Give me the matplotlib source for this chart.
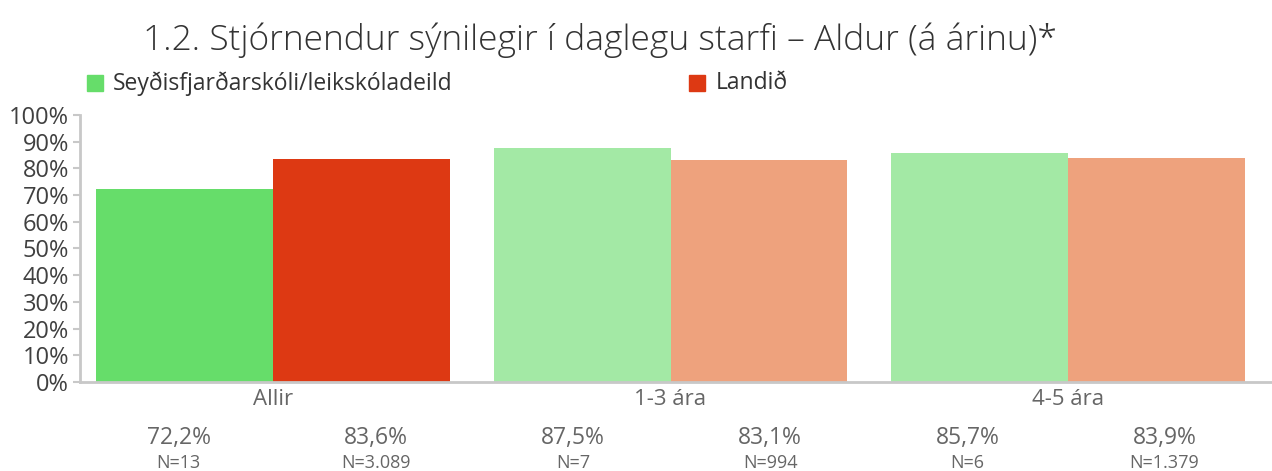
import numpy as np
import matplotlib
matplotlib.use("Agg")
from matplotlib import pyplot as plt

categories = ['Allir', '1-3 ára', '4-5 ára']
school = [72.2, 87.5, 85.7]
country = [83.6, 83.1, 83.9]
schoolN = ['N=13', 'N=7', 'N=6']
countryN = ['N=3.089', 'N=994', 'N=1.379']
seriesNames = ['Seyðisfjarðarskóli/leikskóladeild', 'Landið']

schoolColors = ['#66dd6a', '#a3e9a5', '#a3e9a5']
countryColors = ['#dd3913', '#eea27d', '#eea27d']

plt.rcParams['font.family'] = ['Open Sans', 'DejaVu Sans']

fig = plt.figure(figsize=(12.72, 4.71), dpi=100)
ax = fig.add_axes([0.063, 0.189, 0.937, 0.567])

x = np.arange(len(categories))
width = 0.445
ax.bar(x - width / 2, school, width, color=schoolColors)
ax.bar(x + width / 2, country, width, color=countryColors)

ax.set_xlim(-0.486, 2.514)
ax.set_ylim(0, 100)
ax.set_yticks(np.arange(0, 101, 10))
ax.set_yticklabels([str(v) + '%' for v in range(0, 101, 10)])
ax.tick_params(axis='y', labelsize=17, colors='#c8c8c8', labelcolor='#404040',
               length=5, width=1.5, pad=3)
ax.tick_params(axis='x', length=0, labelsize=16, labelcolor='#666666', pad=5)
ax.set_xticks(x)
ax.set_xticklabels(categories)

for side in ['top', 'right']:
    ax.spines[side].set_visible(False)
for side in ['left', 'bottom']:
    ax.spines[side].set_color('#c8c8c8')
    ax.spines[side].set_linewidth(2)

# value row under the chart, six even columns
values = []
counts = []
for i in range(len(categories)):
    values += [school[i], country[i]]
    counts += [schoolN[i], countryN[i]]
for j in range(len(values)):
    cx = (j + 0.5) / len(values) * 0.9925
    label = ('%.1f' % values[j]).replace('.', ',') + '%'
    ax.text(cx, -0.21, label, transform=ax.transAxes, ha='center',
            va='center', fontsize=16.5, color='#666666')
    ax.text(cx, -0.305, counts[j], transform=ax.transAxes, ha='center',
            va='center', fontsize=13, color='#666666')

fig.text(0.472, 0.915, '1.2. Stjórnendur sýnilegir í daglegu starfi – Aldur (á árinu)*',
         ha='center', va='center', fontsize=25.5, color='#333333', fontweight='light')

fig.text(0.0885, 0.823, seriesNames[0], ha='left', va='center', fontsize=16.5, color='#333333')
fig.text(0.563, 0.823, seriesNames[1], ha='left', va='center', fontsize=16.5, color='#333333')
fig.patches.append(plt.Rectangle((0.0685, 0.806), 0.0125, 0.034, color=schoolColors[0],
                                 transform=fig.transFigure, figure=fig))
fig.patches.append(plt.Rectangle((0.5415, 0.806), 0.0125, 0.034, color=countryColors[0],
                                 transform=fig.transFigure, figure=fig))

fig.savefig('out.png', dpi=100)
